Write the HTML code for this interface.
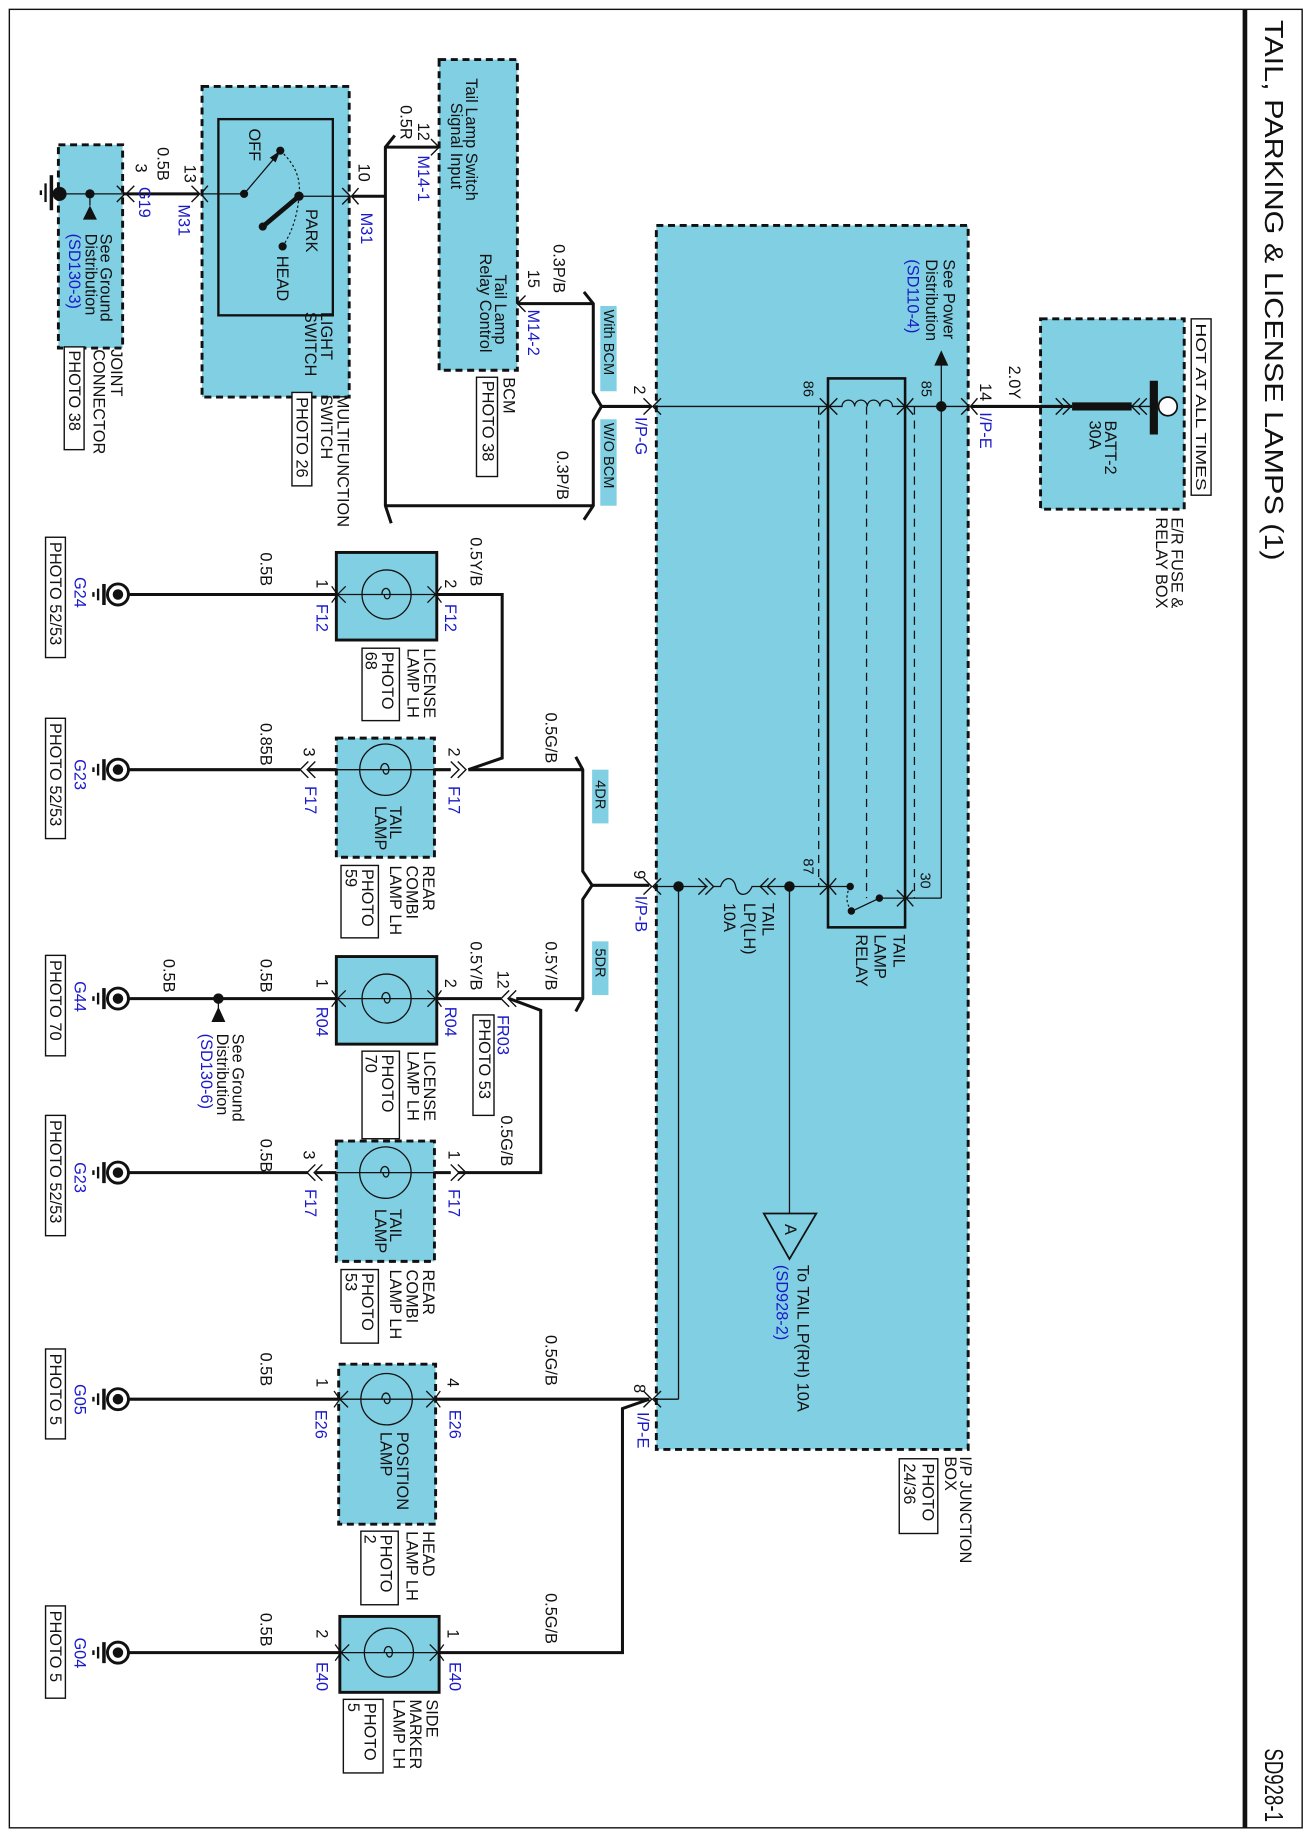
<!DOCTYPE html>
<html><head><meta charset="utf-8"><style>
html,body{margin:0;padding:0;background:#fff}
svg{display:block}
text{font-family:"Liberation Sans",Arial,sans-serif;font-size:14px;fill:#111}
.b{fill:#1a1ac8}
.s{font-size:12.5px}
.box{fill:#80cfe3;stroke:#111;stroke-width:2.5;stroke-dasharray:6 4}
.sb{fill:#80cfe3;stroke:#111;stroke-width:2.5}
.pb{fill:#fff;stroke:#111;stroke-width:1.2}
.w{stroke:#111;stroke-width:2.6;fill:none}
.n{stroke:#111;stroke-width:1.1;fill:none}
.c{stroke:#111;stroke-width:1.2;fill:none}
</style></head><body>
<svg width="1308" height="1836" viewBox="0 0 1120 1572" preserveAspectRatio="none" xmlns="http://www.w3.org/2000/svg">
<rect x="0" y="0" width="1120" height="1572" fill="#fff"/>
<rect x="8" y="8" width="1107" height="1557" fill="none" stroke="#111" stroke-width="1.2"/>
<line x1="1066" y1="8" x2="1066" y2="1565" stroke="#111" stroke-width="4"/>
<text transform="translate(1083,17) rotate(90)" style="font-size:22px" textLength="463" lengthAdjust="spacingAndGlyphs">TAIL, PARKING &amp; LICENSE LAMPS (1)</text>
<text transform="translate(1083,1497) rotate(90)" style="font-size:22px" textLength="63" lengthAdjust="spacingAndGlyphs">SD928-1</text>

<rect class="box" x="50" y="124" width="55" height="174"/>
<rect class="box" x="173" y="74" width="126" height="266"/>
<rect x="187" y="102" width="98" height="168" fill="none" stroke="#111" stroke-width="2"/>
<rect class="box" x="376" y="51" width="67" height="266"/>
<rect class="box" x="562" y="193" width="267" height="1048"/>
<rect class="box" x="891" y="273" width="123" height="163"/>
<rect x="709" y="324" width="66" height="470" fill="none" stroke="#111" stroke-width="2.2"/>

<rect class="sb" x="288" y="473" width="86" height="75"/>
<rect class="box" x="288" y="632" width="84" height="102"/>
<rect class="sb" x="288" y="819" width="86" height="75"/>
<rect class="box" x="288" y="977" width="84" height="103"/>
<rect class="box" x="290" y="1168" width="83" height="137"/>
<rect class="sb" x="291" y="1384" width="85" height="65"/>

<line x1="44" y1="150" x2="44" y2="180" stroke="#111" stroke-width="3"/>
<line x1="39" y1="157" x2="39" y2="173" stroke="#111" stroke-width="2"/>
<line x1="35" y1="163" x2="35" y2="167" stroke="#111" stroke-width="2"/>
<circle cx="51" cy="166" r="6" fill="#111"/>
<line class="n" x1="44" y1="166" x2="105" y2="166"/>
<circle cx="77" cy="166" r="4" fill="#111"/>
<line class="n" x1="77" y1="166" x2="77" y2="176"/>
<path d="M77,176 L71,188 L83,188 Z" fill="#111"/>
<line class="w" x1="105" y1="166" x2="170" y2="166"/>
<path class="c" d="M100,159L107,166L100,173M115,159L108,166L115,173"/>
<path class="c" d="M164,159L171,166L164,173M178,159L172,166L178,173"/>
<line class="n" x1="172" y1="166" x2="209" y2="166"/>
<circle cx="209" cy="166" r="3.5" fill="#111"/>
<line class="n" x1="209" y1="166" x2="237" y2="133"/>
<path d="M240,129 L231,135 L236,139 Z" fill="#111"/>
<circle cx="240" cy="129" r="3.5" fill="#111"/>
<path d="M240,129 Q259,146 256,168 Q254,193 242,211" fill="none" stroke="#111" stroke-width="1" stroke-dasharray="2 2"/>
<line x1="225" y1="194" x2="256" y2="168" stroke="#111" stroke-width="4"/>
<circle cx="225" cy="194" r="3.5" fill="#111"/>
<circle cx="256" cy="168" r="4" fill="#111"/>
<circle cx="242" cy="211" r="3.5" fill="#111"/>
<line class="n" x1="256" y1="168" x2="300" y2="168"/>
<path class="c" d="M293,161L300,168L293,175M307,161L301,168L307,175"/>
<line class="w" x1="301" y1="168" x2="330" y2="168"/>
<path class="w" d="M338,116L330,126L330,433L335,448"/>
<line class="w" x1="330" y1="126" x2="376" y2="126"/>
<path class="c" d="M369,119L376,126L369,133"/>
<line class="w" x1="330" y1="433" x2="508" y2="433"/>
<line class="w" x1="443" y1="260" x2="508" y2="260"/>
<path class="c" d="M450,253L443,260L450,267"/>
<path class="w" d="M500,250L508,260L508,336L515,348L508,360L508,433L500,445"/>
<line class="w" x1="515" y1="348" x2="558" y2="348"/>
<path class="c" d="M551,341L558,348L551,355M566,341L559,348L566,355"/>
<line class="n" x1="560" y1="348" x2="709" y2="348"/>
<path class="c" d="M702,341L709,348L702,355M717,341L710,348L717,355"/>
<path class="n" d="M710,348 L721,348 a5.4,5.4 0 0 1 10.8,0 a5.4,5.4 0 0 1 10.8,0 a5.4,5.4 0 0 1 10.8,0 a5.4,5.4 0 0 1 10.8,0 L775,348"/>
<path class="c" d="M768,341L775,348L768,355M782,341L776,348L782,355"/>
<line class="n" x1="775" y1="348" x2="830" y2="348"/>
<line class="n" x1="701" y1="348" x2="701" y2="759" stroke-dasharray="7 5"/>
<line class="n" x1="742" y1="348" x2="742" y2="769" stroke-dasharray="7 5"/>
<line class="n" x1="783" y1="348" x2="783" y2="769" stroke-dasharray="7 5"/>
<circle cx="806" cy="348" r="4.5" fill="#111"/>
<line class="n" x1="806" y1="312" x2="806" y2="769"/>
<path d="M806,300 L800,313 L812,313 Z" fill="#111"/>
<path class="c" d="M823,341L830,348L823,355M837,341L831,348L837,355"/>
<line class="w" x1="831" y1="348" x2="918" y2="348"/>
<path class="c" d="M904,341L911,348L904,355M910,341L917,348L910,355"/>
<line x1="918" y1="348" x2="969" y2="348" stroke="#111" stroke-width="7"/>
<path class="c" d="M982,341L975,348L982,355M976,341L969,348L976,355"/>
<line class="n" x1="969" y1="348" x2="988" y2="348"/>
<line x1="988" y1="326" x2="988" y2="372" stroke="#111" stroke-width="7"/>
<circle cx="1000" cy="348" r="8" fill="#fff" stroke="#111" stroke-width="1.5"/>

<circle cx="728" cy="759" r="3.2" fill="#111"/>
<circle cx="753" cy="769" r="3.2" fill="#111"/>
<circle cx="729" cy="780" r="3.2" fill="#111"/>
<line class="n" x1="753" y1="769" x2="732" y2="779"/>
<path d="M728,759 Q722,770 729,780" fill="none" stroke="#111" stroke-width="1" stroke-dasharray="2 2"/>
<line class="n" x1="753" y1="769" x2="806" y2="769"/>
<path class="c" d="M768,762L775,769L768,776M782,762L776,769L782,776"/>
<line class="n" x1="709" y1="759" x2="728" y2="759"/>
<path class="c" d="M702,752L709,759L702,766M716,752L710,759L716,766"/>
<line class="n" x1="560" y1="759" x2="709" y2="759"/>
<circle cx="676" cy="759" r="4.5" fill="#111"/>
<circle cx="581" cy="759" r="4.5" fill="#111"/>
<rect x="606" y="752" width="45" height="14" fill="#80cfe3"/>
<path class="c" d="M598,752L605,759L598,766M604,752L611,759L604,766"/>
<path class="n" d="M611,759 L617,759 C620,750 628,750 630,759 C632,768 640,768 644,759 L651,759"/>
<path class="c" d="M658,752L651,759L658,766M664,752L657,759L664,766"/>
<line class="n" x1="676" y1="759" x2="676" y2="1039"/>
<path d="M654,1039 L699,1039 L676,1078 Z" fill="none" stroke="#111" stroke-width="1.5"/>
<line class="n" x1="581" y1="759" x2="581" y2="1198"/>
<line class="n" x1="560" y1="1198" x2="581" y2="1198"/>
<path class="c" d="M551,752L558,759L551,766M566,752L559,759L566,766"/>
<path class="c" d="M551,1191L558,1198L551,1205M566,1191L559,1198L566,1205"/>

<line class="w" x1="507" y1="758" x2="556" y2="758"/>
<path class="w" d="M493,648L499,659L499,746L507,758L499,770L499,855L493,866"/>
<line class="w" x1="401" y1="659" x2="499" y2="659"/>
<path class="w" d="M374,509L430,509L430,649L401,659"/>
<path class="c" d="M386,652L393,659L386,666M392,652L399,659L392,666"/>
<line class="w" x1="372" y1="659" x2="386" y2="659"/>
<line class="w" x1="442" y1="855" x2="499" y2="855"/>
<path class="c" d="M442,848L435,855L442,862M436,848L429,855L436,862"/>
<line class="w" x1="374" y1="855" x2="429" y2="855"/>
<path class="w" d="M436,855L463,865L463,1004L392,1004"/>
<path class="c" d="M386,997L393,1004L386,1011M392,997L399,1004L392,1011"/>
<line class="w" x1="372" y1="1004" x2="386" y2="1004"/>
<line class="w" x1="373" y1="1198" x2="556" y2="1198"/>
<path class="w" d="M556,1198L533,1206L533,1415L376,1415"/>

<g>
<line class="w" x1="101" y1="509" x2="288" y2="509"/>
<line class="w" x1="101" y1="659" x2="257" y2="659"/>
<line class="w" x1="101" y1="855" x2="288" y2="855"/>
<line class="w" x1="101" y1="1004" x2="264" y2="1004"/>
<line class="w" x1="101" y1="1198" x2="290" y2="1198"/>
<line class="w" x1="101" y1="1415" x2="291" y2="1415"/>
<line class="w" x1="264" y1="659" x2="288" y2="659"/>
<line class="w" x1="270" y1="1004" x2="288" y2="1004"/>
<path class="c" d="M264,652L257,659L264,666M270,652L263,659L270,666"/>
<path class="c" d="M270,997L263,1004L270,1011M276,997L269,1004L276,1011"/>
<circle cx="187" cy="855" r="4.5" fill="#111"/>
<line class="n" x1="187" y1="855" x2="187" y2="864"/>
<path d="M187,862 L181,875 L193,875 Z" fill="#111"/>
</g>
<g class="n">
<circle cx="331" cy="509" r="21"/><line x1="288" y1="509" x2="374" y2="509"/>
<circle cx="330" cy="659" r="22"/><line x1="288" y1="659" x2="372" y2="659"/>
<circle cx="331" cy="855" r="21"/><line x1="288" y1="855" x2="374" y2="855"/>
<circle cx="330" cy="1004" r="22"/><line x1="288" y1="1004" x2="372" y2="1004"/>
<circle cx="331" cy="1198" r="22"/><line x1="290" y1="1198" x2="373" y2="1198"/>
<circle cx="333" cy="1415" r="21"/><line x1="291" y1="1415" x2="376" y2="1415"/>
<path d="M327,509 c0,-7 7,-7 7,0 c0,5 -5,5 -5,0"/>
<path d="M326,659 c0,-7 7,-7 7,0 c0,5 -5,5 -5,0"/>
<path d="M327,855 c0,-7 7,-7 7,0 c0,5 -5,5 -5,0"/>
<path d="M326,1004 c0,-7 7,-7 7,0 c0,5 -5,5 -5,0"/>
<path d="M327,1198 c0,-7 7,-7 7,0 c0,5 -5,5 -5,0"/>
<path d="M329,1415 c0,-7 7,-7 7,0 c0,5 -5,5 -5,0"/>
<path d="M296,502L289,509L296,516M366,502L373,509L366,516"/>
<path d="M296,848L289,855L296,862M366,848L373,855L366,862"/>
<path d="M298,1191L291,1198L298,1205M365,1191L372,1198L365,1205"/>
<path d="M299,1408L292,1415L299,1422M368,1408L375,1415L368,1422"/>
<path d="M284,502L289,509L284,516M378,502L373,509L378,516"/>
<path d="M284,848L289,855L284,862M378,848L373,855L378,862"/>
<path d="M286,1191L291,1198L286,1205M377,1191L372,1198L377,1205"/>
<path d="M287,1408L292,1415L287,1422M380,1408L375,1415L380,1422"/>
</g>
<g>
<g transform="translate(0,509)"><circle cx="101" cy="0" r="9" fill="#fff" stroke="#111" stroke-width="2.5"/><circle cx="101" cy="0" r="4.5" fill="#111"/><line x1="89" y1="-9" x2="89" y2="9" stroke="#111" stroke-width="3"/><line x1="84" y1="-5" x2="84" y2="5" stroke="#111" stroke-width="2"/><line x1="80" y1="-2" x2="80" y2="2" stroke="#111" stroke-width="2"/></g>
<g transform="translate(0,659)"><circle cx="101" cy="0" r="9" fill="#fff" stroke="#111" stroke-width="2.5"/><circle cx="101" cy="0" r="4.5" fill="#111"/><line x1="89" y1="-9" x2="89" y2="9" stroke="#111" stroke-width="3"/><line x1="84" y1="-5" x2="84" y2="5" stroke="#111" stroke-width="2"/><line x1="80" y1="-2" x2="80" y2="2" stroke="#111" stroke-width="2"/></g>
<g transform="translate(0,855)"><circle cx="101" cy="0" r="9" fill="#fff" stroke="#111" stroke-width="2.5"/><circle cx="101" cy="0" r="4.5" fill="#111"/><line x1="89" y1="-9" x2="89" y2="9" stroke="#111" stroke-width="3"/><line x1="84" y1="-5" x2="84" y2="5" stroke="#111" stroke-width="2"/><line x1="80" y1="-2" x2="80" y2="2" stroke="#111" stroke-width="2"/></g>
<g transform="translate(0,1004)"><circle cx="101" cy="0" r="9" fill="#fff" stroke="#111" stroke-width="2.5"/><circle cx="101" cy="0" r="4.5" fill="#111"/><line x1="89" y1="-9" x2="89" y2="9" stroke="#111" stroke-width="3"/><line x1="84" y1="-5" x2="84" y2="5" stroke="#111" stroke-width="2"/><line x1="80" y1="-2" x2="80" y2="2" stroke="#111" stroke-width="2"/></g>
<g transform="translate(0,1198)"><circle cx="101" cy="0" r="9" fill="#fff" stroke="#111" stroke-width="2.5"/><circle cx="101" cy="0" r="4.5" fill="#111"/><line x1="89" y1="-9" x2="89" y2="9" stroke="#111" stroke-width="3"/><line x1="84" y1="-5" x2="84" y2="5" stroke="#111" stroke-width="2"/><line x1="80" y1="-2" x2="80" y2="2" stroke="#111" stroke-width="2"/></g>
<g transform="translate(0,1415)"><circle cx="101" cy="0" r="9" fill="#fff" stroke="#111" stroke-width="2.5"/><circle cx="101" cy="0" r="4.5" fill="#111"/><line x1="89" y1="-9" x2="89" y2="9" stroke="#111" stroke-width="3"/><line x1="84" y1="-5" x2="84" y2="5" stroke="#111" stroke-width="2"/><line x1="80" y1="-2" x2="80" y2="2" stroke="#111" stroke-width="2"/></g>
</g>

<rect class="pb" x="250" y="336" width="17" height="80"/>
<rect class="pb" x="55" y="297" width="17" height="88"/>
<rect class="pb" x="408" y="323" width="18" height="85"/>
<rect x="514" y="262" width="14" height="73" fill="#80cfe3"/>
<rect x="514" y="359" width="14" height="74" fill="#80cfe3"/>
<rect class="pb" x="1020" y="273" width="17" height="151"/>
<rect class="pb" x="770" y="1249" width="33" height="64"/>
<rect x="507" y="659" width="14" height="46" fill="#80cfe3"/>
<rect x="507" y="806" width="14" height="46" fill="#80cfe3"/>
<rect class="pb" x="39" y="460" width="17" height="103"/>
<rect class="pb" x="310" y="555" width="32" height="62"/>
<rect class="pb" x="39" y="615" width="17" height="103"/>
<rect class="pb" x="292" y="741" width="32" height="62"/>
<rect class="pb" x="39" y="818" width="17" height="86"/>
<rect class="pb" x="310" y="900" width="32" height="75"/>
<rect class="pb" x="405" y="869" width="18" height="86"/>
<rect class="pb" x="39" y="955" width="17" height="103"/>
<rect class="pb" x="292" y="1087" width="32" height="63"/>
<rect class="pb" x="39" y="1155" width="17" height="77"/>
<rect class="pb" x="309" y="1311" width="32" height="63"/>
<rect class="pb" x="39" y="1375" width="17" height="79"/>
<rect class="pb" x="294" y="1455" width="34" height="63"/>

<g>
<text transform="translate(135,126) rotate(90)">0.5B</text>
<text transform="translate(116,140) rotate(90)">3</text>
<text class="b" transform="translate(119,160) rotate(90)">G19</text>
<text transform="translate(158,141) rotate(90)">13</text>
<text class="b" transform="translate(153,175) rotate(90)">M31</text>
<text transform="translate(307,140) rotate(90)">10</text>
<text class="b" transform="translate(309,182) rotate(90)">M31</text>
<text transform="translate(213,110) rotate(90)">OFF</text>
<text transform="translate(262,179) rotate(90)">PARK</text>
<text transform="translate(237,219) rotate(90)">HEAD</text>
<text transform="translate(275,267) rotate(90)">LIGHT</text>
<text transform="translate(261,267) rotate(90)">SWITCH</text>
<text transform="translate(289,338) rotate(90)">MULTIFUNCTION</text>
<text transform="translate(275,338) rotate(90)">SWITCH</text>
<text transform="translate(254,340) rotate(90)">PHOTO 26</text>
<text transform="translate(86,200) rotate(90)">See Ground</text>
<text transform="translate(73,200) rotate(90)">Distribution</text>
<text class="b" transform="translate(59,200) rotate(90)">(SD130-3)</text>
<text transform="translate(95,299) rotate(90)">JOINT</text>
<text transform="translate(80,299) rotate(90)">CONNECTOR</text>
<text transform="translate(59,300) rotate(90)">PHOTO 38</text>

<text transform="translate(399,67) rotate(90)">Tail Lamp Switch</text>
<text transform="translate(386,88) rotate(90)">Signal Input</text>
<text transform="translate(424,235) rotate(90)">Tail Lamp</text>
<text transform="translate(411,217) rotate(90)">Relay Control</text>
<text transform="translate(358,105) rotate(90)">12</text>
<text transform="translate(343,90) rotate(90)">0.5R</text>
<text class="b" transform="translate(358,133) rotate(90)">M14-1</text>
<text transform="translate(452,231) rotate(90)">15</text>
<text class="b" transform="translate(452,265) rotate(90)">M14-2</text>
<text transform="translate(474,209) rotate(90)">0.3P/B</text>
<text transform="translate(431,323) rotate(90)">BCM</text>
<text transform="translate(413,326) rotate(90)">PHOTO 38</text>
<text class="s" transform="translate(517,265) rotate(90)">With BCM</text>
<text class="s" transform="translate(517,362) rotate(90)">W/O BCM</text>
<text transform="translate(477,386) rotate(90)">0.3P/B</text>
<text transform="translate(543,330) rotate(90)">2</text>
<text class="b" transform="translate(544,357) rotate(90)">I/P-G</text>

<text transform="translate(808,222) rotate(90)">See Power</text>
<text transform="translate(793,222) rotate(90)">Distribution</text>
<text class="b" transform="translate(777,222) rotate(90)">(SD110-4)</text>
<text class="s" transform="translate(688,326) rotate(90)">86</text>
<text class="s" transform="translate(789,326) rotate(90)">85</text>
<text transform="translate(839,328) rotate(90)">14</text>
<text class="b" transform="translate(839,353) rotate(90)">I/P-E</text>
<text transform="translate(864,313) rotate(90)">2.0Y</text>
<text transform="translate(946,360) rotate(90)">BATT-2</text>
<text transform="translate(933,360) rotate(90)">30A</text>
<text class="s" transform="translate(1024,277) rotate(90)" textLength="143" lengthAdjust="spacingAndGlyphs">HOT AT ALL TIMES</text>
<text transform="translate(1003,443) rotate(90)">E/R FUSE &amp;</text>
<text transform="translate(990,443) rotate(90)">RELAY BOX</text>
<text class="s" transform="translate(688,735) rotate(90)">87</text>
<text class="s" transform="translate(788,747) rotate(90)">30</text>
<text transform="translate(765,800) rotate(90)">TAIL</text>
<text transform="translate(749,800) rotate(90)">LAMP</text>
<text transform="translate(733,800) rotate(90)">RELAY</text>
<text transform="translate(653,773) rotate(90)">TAIL</text>
<text transform="translate(637,773) rotate(90)">LP(LH)</text>
<text transform="translate(620,773) rotate(90)">10A</text>
<text transform="translate(543,745) rotate(90)">9</text>
<text class="b" transform="translate(544,767) rotate(90)">I/P-B</text>
<text transform="translate(672,1048) rotate(90)">A</text>
<text transform="translate(683,1083) rotate(90)">To TAIL LP(RH) 10A</text>
<text class="b" transform="translate(665,1083) rotate(90)">(SD928-2)</text>
<text transform="translate(822,1247) rotate(90)">I/P JUNCTION</text>
<text transform="translate(809,1247) rotate(90)">BOX</text>
<text transform="translate(790,1253) rotate(90)">PHOTO</text>
<text transform="translate(774,1253) rotate(90)">24/36</text>
<text transform="translate(543,1185) rotate(90)">8</text>
<text class="b" transform="translate(546,1209) rotate(90)">I/P-E</text>

<text transform="translate(223,473) rotate(90)">0.5B</text>
<text transform="translate(271,496) rotate(90)">1</text>
<text transform="translate(381,496) rotate(90)">2</text>
<text class="b" transform="translate(271,517) rotate(90)">F12</text>
<text class="b" transform="translate(381,517) rotate(90)">F12</text>
<text transform="translate(403,460) rotate(90)">0.5Y/B</text>
<text class="b" transform="translate(64,494) rotate(90)">G24</text>
<text transform="translate(43,464) rotate(90)">PHOTO 52/53</text>
<text transform="translate(363,555) rotate(90)">LICENSE</text>
<text transform="translate(349,555) rotate(90)">LAMP LH</text>
<text transform="translate(327,558) rotate(90)">PHOTO</text>
<text transform="translate(313,558) rotate(90)">68</text>

<text transform="translate(223,619) rotate(90)">0.85B</text>
<text transform="translate(260,640) rotate(90)">3</text>
<text transform="translate(384,640) rotate(90)">2</text>
<text class="b" transform="translate(261,673) rotate(90)">F17</text>
<text class="b" transform="translate(384,673) rotate(90)">F17</text>
<text transform="translate(467,610) rotate(90)">0.5G/B</text>
<text class="s" transform="translate(510,668) rotate(90)">4DR</text>
<text transform="translate(334,690) rotate(90)">TAIL</text>
<text transform="translate(321,690) rotate(90)">LAMP</text>
<text transform="translate(362,741) rotate(90)">REAR</text>
<text transform="translate(348,741) rotate(90)">COMBI</text>
<text transform="translate(334,741) rotate(90)">LAMP LH</text>
<text transform="translate(310,744) rotate(90)">PHOTO</text>
<text transform="translate(296,744) rotate(90)">59</text>
<text class="b" transform="translate(64,650) rotate(90)">G23</text>
<text transform="translate(43,619) rotate(90)">PHOTO 52/53</text>

<text transform="translate(140,821) rotate(90)">0.5B</text>
<text transform="translate(223,821) rotate(90)">0.5B</text>
<text transform="translate(271,838) rotate(90)">1</text>
<text transform="translate(381,838) rotate(90)">2</text>
<text class="b" transform="translate(271,862) rotate(90)">R04</text>
<text class="b" transform="translate(381,862) rotate(90)">R04</text>
<text transform="translate(403,806) rotate(90)">0.5Y/B</text>
<text transform="translate(426,831) rotate(90)">12</text>
<text class="b" transform="translate(426,869) rotate(90)">FR03</text>
<text transform="translate(410,872) rotate(90)">PHOTO 53</text>
<text transform="translate(467,806) rotate(90)">0.5Y/B</text>
<text class="s" transform="translate(510,812) rotate(90)">5DR</text>
<text transform="translate(199,885) rotate(90)">See Ground</text>
<text transform="translate(186,885) rotate(90)">Distribution</text>
<text class="b" transform="translate(172,885) rotate(90)">(SD130-6)</text>
<text transform="translate(363,900) rotate(90)">LICENSE</text>
<text transform="translate(349,900) rotate(90)">LAMP LH</text>
<text transform="translate(327,903) rotate(90)">PHOTO</text>
<text transform="translate(313,903) rotate(90)">70</text>
<text class="b" transform="translate(64,840) rotate(90)">G44</text>
<text transform="translate(43,822) rotate(90)">PHOTO 70</text>

<text transform="translate(429,955) rotate(90)">0.5G/B</text>
<text transform="translate(223,975) rotate(90)">0.5B</text>
<text transform="translate(260,985) rotate(90)">3</text>
<text transform="translate(384,985) rotate(90)">1</text>
<text class="b" transform="translate(261,1018) rotate(90)">F17</text>
<text class="b" transform="translate(384,1018) rotate(90)">F17</text>
<text transform="translate(334,1035) rotate(90)">TAIL</text>
<text transform="translate(321,1035) rotate(90)">LAMP</text>
<text transform="translate(362,1087) rotate(90)">REAR</text>
<text transform="translate(348,1087) rotate(90)">COMBI</text>
<text transform="translate(334,1087) rotate(90)">LAMP LH</text>
<text transform="translate(310,1090) rotate(90)">PHOTO</text>
<text transform="translate(296,1090) rotate(90)">53</text>
<text class="b" transform="translate(64,995) rotate(90)">G23</text>
<text transform="translate(43,959) rotate(90)">PHOTO 52/53</text>

<text transform="translate(467,1143) rotate(90)">0.5G/B</text>
<text transform="translate(223,1158) rotate(90)">0.5B</text>
<text transform="translate(271,1180) rotate(90)">1</text>
<text transform="translate(383,1180) rotate(90)">4</text>
<text class="b" transform="translate(270,1207) rotate(90)">E26</text>
<text class="b" transform="translate(385,1207) rotate(90)">E26</text>
<text transform="translate(340,1226) rotate(90)">POSITION</text>
<text transform="translate(326,1226) rotate(90)">LAMP</text>
<text transform="translate(362,1311) rotate(90)">HEAD</text>
<text transform="translate(348,1311) rotate(90)">LAMP LH</text>
<text transform="translate(326,1314) rotate(90)">PHOTO</text>
<text transform="translate(312,1314) rotate(90)">2</text>
<text class="b" transform="translate(64,1185) rotate(90)">G05</text>
<text transform="translate(43,1159) rotate(90)">PHOTO 5</text>

<text transform="translate(467,1364) rotate(90)">0.5G/B</text>
<text transform="translate(223,1381) rotate(90)">0.5B</text>
<text transform="translate(271,1395) rotate(90)">2</text>
<text transform="translate(383,1395) rotate(90)">1</text>
<text class="b" transform="translate(271,1423) rotate(90)">E40</text>
<text class="b" transform="translate(385,1423) rotate(90)">E40</text>
<text transform="translate(365,1455) rotate(90)">SIDE</text>
<text transform="translate(351,1455) rotate(90)">MARKER</text>
<text transform="translate(337,1455) rotate(90)">LAMP LH</text>
<text transform="translate(312,1458) rotate(90)">PHOTO</text>
<text transform="translate(298,1458) rotate(90)">5</text>
<text class="b" transform="translate(64,1402) rotate(90)">G04</text>
<text transform="translate(43,1379) rotate(90)">PHOTO 5</text>
</g>
</svg>
</body></html>
